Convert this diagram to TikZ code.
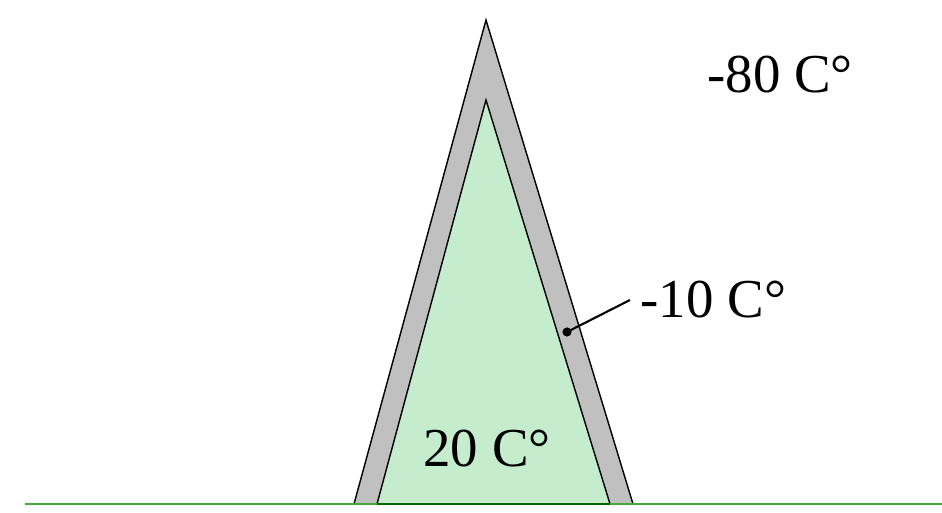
\documentclass[tikz,border=0pt]{standalone}
\usepackage{fontspec}
\setmainfont{Liberation Serif}
\usepackage{xcolor}
\usetikzlibrary{positioning}

\definecolor{wallgray}{RGB}{192,192,192}
\definecolor{insidegreen}{RGB}{197,236,204}
\definecolor{groundgreen}{RGB}{70,170,60}

\begin{document}
\begin{tikzpicture}[
x=0.01cm, y=-0.01cm,
wall/.style={draw, fill=wallgray, line join=miter},
inside/.style={draw, fill=insidegreen, line join=miter},
temp/.style={font=\fontsize{15.6}{18}\selectfont, inner sep=0pt}
]
\useasboundingbox (0,0) rectangle (942,513);

% tent wall
\coordinate (oL) at (354,504);
\coordinate (oT) at (486,20);
\coordinate (oR) at (633,504);
\filldraw[wall] (oL) -- (oT) -- (oR) -- cycle;

% inside
\coordinate (iL) at (377,504);
\coordinate (iT) at (486,100);
\coordinate (iR) at (610,504);
\filldraw[inside] (iL) -- (iT) -- (iR) -- cycle;

% ground
\coordinate (g0) at (25,504);
\coordinate (g1) at (942,504);
\draw[groundgreen] (g0) -- (g1);
\draw[green!40!black] (iL) -- (iR);

% temperatures
\node[temp] (outside) at (780,75) {-80 C°};
\node[temp] (room) at (487,449) {20 C°};
\node[temp, anchor=west] (wallt) at (640,300) {-10 C°};

\coordinate (pin) at (567,332);
\fill (pin) circle (1.3pt);
\draw[line width=0.6pt] (pin) -- ([xshift=-1mm]wallt.west);

\end{tikzpicture}
\end{document}
